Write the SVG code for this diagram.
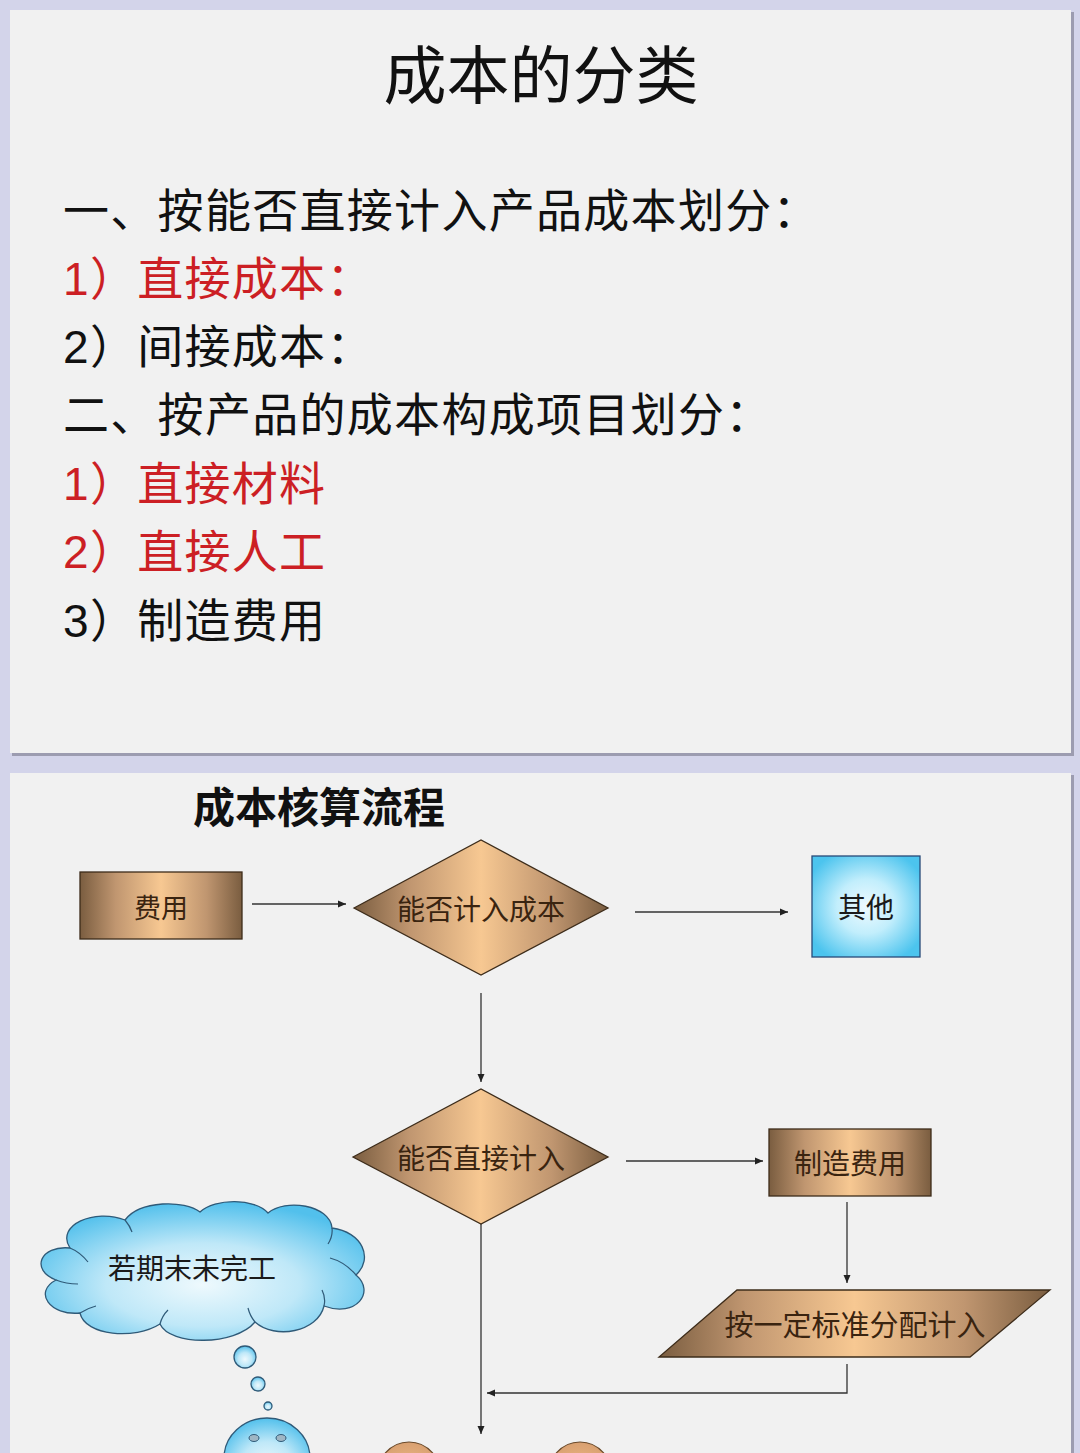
<svg xmlns="http://www.w3.org/2000/svg" width="1080" height="1453" viewBox="0 0 1080 1453">
<defs>
<style>
.slide{fill:#f1f1f1}
.shadow{fill:#9c9cb0}
.cjk{font-family:"Noto Sans CJK SC","Liberation Sans",sans-serif}
.item{font-family:"Liberation Sans","Noto Sans CJK SC",sans-serif;font-size:46px;fill:#111;letter-spacing:1.3px}
.red{fill:#cc1f24}
.node-text{font-family:"Noto Sans CJK SC",sans-serif;fill:#3a2410;text-anchor:middle;dominant-baseline:central}
.brown{fill:url(#brownGrad);stroke:#3d2c1a;stroke-width:1.3}
.conn{stroke:#333;stroke-width:1.3;fill:none}
.bubble{fill:url(#cloudGrad);stroke:#2f5a78;stroke-width:1.3}
</style>
<linearGradient id="brownGrad" x1="0" y1="0" x2="1" y2="0">
<stop offset="0" stop-color="#7a5d40"/>
<stop offset="0.22" stop-color="#c09670"/>
<stop offset="0.5" stop-color="#f7c892"/>
<stop offset="0.78" stop-color="#c09670"/>
<stop offset="1" stop-color="#7a5d40"/>
</linearGradient>
<radialGradient id="cyanGrad" cx="0.5" cy="0.5" r="0.6">
<stop offset="0" stop-color="#eefaff"/>
<stop offset="0.45" stop-color="#c2eefc"/>
<stop offset="1" stop-color="#4cc4ee"/>
</radialGradient>
<radialGradient id="cloudGrad" cx="0.5" cy="0.6" r="0.6">
<stop offset="0" stop-color="#eef9fd"/>
<stop offset="0.5" stop-color="#bfe8f8"/>
<stop offset="1" stop-color="#52c0ec"/>
</radialGradient>
<radialGradient id="peachGrad" cx="0.5" cy="0.6" r="0.6">
<stop offset="0" stop-color="#f8c896"/>
<stop offset="1" stop-color="#d9a070"/>
</radialGradient>
<marker id="arrow" markerWidth="9" markerHeight="9" refX="8" refY="4.5" orient="auto" markerUnits="userSpaceOnUse">
<path d="M0,1 L8,4.5 L0,8 Z" fill="#222"/>
</marker>
</defs>

<rect x="0" y="0" width="1080" height="1453" fill="#d3d4ea"/>

<g id="slide1">
<rect class="shadow" x="12" y="12" width="1062" height="744"/>
<rect class="slide" x="10" y="10" width="1061" height="743"/>
<text class="cjk" x="541" y="98" font-size="63" text-anchor="middle" fill="#111">成本的分类</text>
<text class="item" x="63" y="227">一、按能否直接计入产品成本划分：</text>
<text class="item red" x="63" y="295">1）直接成本：</text>
<text class="item" x="63" y="363">2）间接成本：</text>
<text class="item" x="63" y="431">二、按产品的成本构成项目划分：</text>
<text class="item red" x="63" y="500">1）直接材料</text>
<text class="item red" x="63" y="568">2）直接人工</text>
<text class="item" x="63" y="637">3）制造费用</text>
</g>

<g id="slide2">
<rect class="shadow" x="12" y="775" width="1062" height="700"/>
<rect class="slide" x="10" y="773" width="1061" height="700"/>
<text class="cjk" x="193" y="823" font-size="42" font-weight="bold" fill="#111">成本核算流程</text>
</g>

<g id="connectors">
<line class="conn" x1="252" y1="904" x2="346" y2="904" marker-end="url(#arrow)"/>
<line class="conn" x1="635" y1="912" x2="788" y2="912" marker-end="url(#arrow)"/>
<line class="conn" x1="481" y1="993" x2="481" y2="1082" marker-end="url(#arrow)"/>
<line class="conn" x1="626" y1="1161" x2="763" y2="1161" marker-end="url(#arrow)"/>
<line class="conn" x1="847" y1="1202" x2="847" y2="1283" marker-end="url(#arrow)"/>
<line class="conn" x1="481" y1="1224" x2="481" y2="1434" marker-end="url(#arrow)"/>
<polyline class="conn" points="847,1364 847,1393 487,1393" marker-end="url(#arrow)"/>
</g>

<g id="node-feiyong">
<rect class="brown" x="80" y="872" width="162" height="67"/>
<text class="node-text" x="161" y="906" font-size="27">费用</text>
</g>

<g id="node-jiruchengben">
<polygon class="brown" points="354,908 481,840 608,908 481,975"/>
<text class="node-text" x="481" y="908" font-size="28">能否计入成本</text>
</g>

<g id="node-qita">
<rect x="812" y="856" width="108" height="101" fill="url(#cyanGrad)" stroke="#284a78" stroke-width="1.3"/>
<text class="node-text" x="866" y="906" font-size="28" style="fill:#1a1a1a">其他</text>
</g>

<g id="node-zhijiejiru">
<polygon class="brown" points="353,1157 481,1089 608,1157 481,1224"/>
<text class="node-text" x="481" y="1157" font-size="28">能否直接计入</text>
</g>

<g id="node-zhizaofeiyong">
<rect class="brown" x="769" y="1129" width="162" height="67"/>
<text class="node-text" x="850" y="1162" font-size="28">制造费用</text>
</g>

<g id="node-fenpei">
<polygon class="brown" points="737,1290 1050,1290 970,1357 659,1357"/>
<text class="node-text" x="855" y="1323" font-size="29">按一定标准分配计入</text>
</g>

<g id="node-cloud">
<path class="bubble" d="M70,1248 C55,1225 95,1208 125,1220 C140,1200 185,1200 200,1212 C215,1198 255,1198 268,1213 C285,1198 330,1205 332,1228 C362,1232 374,1258 356,1275 C376,1292 356,1318 324,1306 C318,1332 275,1340 255,1322 C235,1346 170,1346 160,1324 C135,1340 85,1336 80,1313 C50,1316 33,1292 56,1280 C30,1270 40,1245 70,1248 Z"/>
<path d="M70,1248 Q80,1252 88,1262 M125,1220 Q130,1226 132,1232 M332,1228 Q333,1236 328,1244 M356,1275 Q345,1262 330,1258 M324,1306 Q326,1298 322,1290 M255,1322 Q250,1316 248,1308 M160,1324 Q162,1316 168,1310 M80,1313 Q88,1308 96,1306 M56,1280 Q66,1284 78,1284" fill="none" stroke="#2f5a78" stroke-width="1.2"/>
<text class="node-text" x="192" y="1267" font-size="28" style="fill:#1a1a1a">若期末未完工</text>
<circle class="bubble" cx="245" cy="1357" r="11"/>
<circle class="bubble" cx="258" cy="1384" r="7"/>
<circle class="bubble" cx="268" cy="1406" r="4"/>
<ellipse class="bubble" cx="267" cy="1458" rx="43" ry="40"/>
<ellipse cx="254" cy="1438" rx="5" ry="3.5" fill="#9fb6c4" stroke="#2f5a78" stroke-width="1"/>
<ellipse cx="281" cy="1438" rx="5" ry="3.5" fill="#9fb6c4" stroke="#2f5a78" stroke-width="1"/>
</g>

<g id="node-oval1">
<ellipse cx="409" cy="1478" rx="33" ry="36" fill="url(#peachGrad)" stroke="#6b4a2a" stroke-width="1.2"/>
</g>
<g id="node-oval2">
<ellipse cx="580" cy="1478" rx="33" ry="36" fill="url(#peachGrad)" stroke="#6b4a2a" stroke-width="1.2"/>
</g>
</svg>
